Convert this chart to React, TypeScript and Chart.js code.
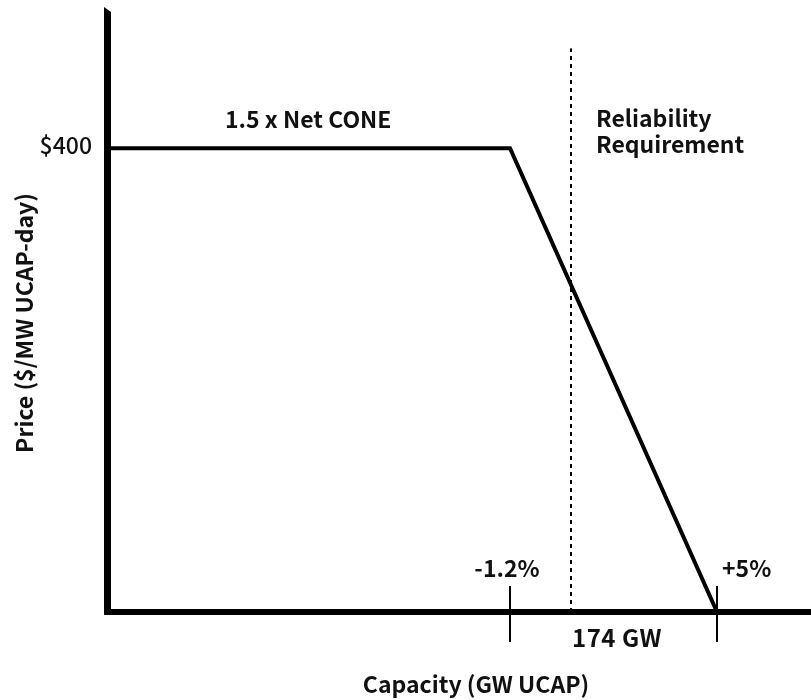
import React, { useEffect, useRef } from "react";
import { Chart, registerables } from "chart.js";

Chart.register(...registerables);

// Stylised demand curve (x in relative capacity units, y in $/MW UCAP-day)
const curveCapacity = [0, 57.43, 87];
const curvePrice = [400, 400, 0];
const reliabilityCapacity = 66.14;
const reliabilityLineTop = 486;
const tickCapacities = [57.43, 87];
const tickLabels = ["-1.2%", "+5%"];
const priceLabel = "$400";
const priceCapValue = 400;
const curveLabel = "1.5 x Net CONE";
const reliabilityLabel = ["Reliability", "Requirement"];
const requirementLabel = "174 GW";
const xTitle = "Capacity (GW UCAP)";
const yTitle = "Price ($/MW UCAP-day)";

const FONT = '"Noto Sans CJK JP", "Noto Sans", sans-serif';

const overlay = {
  id: "overlay",
  afterDatasetsDraw(chart: any) {
    const { ctx, chartArea, scales } = chart;
    const xs = scales.x;
    const ys = scales.y;
    const L = chartArea.left;
    const B = chartArea.bottom;
    ctx.save();
    ctx.fillStyle = "#000";
    // y axis with slanted top
    ctx.beginPath();
    ctx.moveTo(L - 4, 7);
    ctx.lineTo(L + 3, 12);
    ctx.lineTo(L + 3, B + 3);
    ctx.lineTo(L - 4, B + 3);
    ctx.closePath();
    ctx.fill();
    // x axis
    ctx.fillRect(L - 4, B - 3, chart.width - (L - 4), 6);
    // ticks
    ctx.strokeStyle = "#000";
    ctx.lineWidth = 2;
    tickCapacities.forEach((v) => {
      const px = Math.round(xs.getPixelForValue(v));
      ctx.beginPath();
      ctx.moveTo(px, B - 26);
      ctx.lineTo(px, B + 30);
      ctx.stroke();
    });
    // texts
    ctx.fillStyle = "#111";
    ctx.textBaseline = "alphabetic";
    const yCap = ys.getPixelForValue(priceCapValue);
    ctx.font = `500 23px ${FONT}`;
    ctx.textAlign = "right";
    ctx.fillText(priceLabel, L - 16, yCap + 6);
    ctx.font = `600 23px ${FONT}`;
    ctx.textAlign = "left";
    ctx.fillText(curveLabel, 225, yCap - 20);
    const rx = xs.getPixelForValue(reliabilityCapacity);
    ctx.fillText(reliabilityLabel[0], rx + 25, yCap - 21);
    ctx.fillText(reliabilityLabel[1], rx + 25, yCap + 5);
    ctx.textAlign = "center";
    ctx.fillText(tickLabels[0], xs.getPixelForValue(tickCapacities[0]) - 3, B - 35);
    ctx.textAlign = "left";
    ctx.fillText(tickLabels[1], xs.getPixelForValue(tickCapacities[1]) + 5, B - 35);
    ctx.save();
    ctx.font = `600 24px ${FONT}`;
    (ctx as any).letterSpacing = "0.5px";
    ctx.fillText(requirementLabel, rx + 1, B + 35);
    ctx.restore();
    // axis titles
    ctx.font = `700 23px ${FONT}`;
    ctx.textAlign = "center";
    ctx.fillText(xTitle, 476, 693);
    ctx.save();
    ctx.translate(33, 323);
    ctx.rotate(-Math.PI / 2);
    ctx.fillText(yTitle, 0, 0);
    ctx.restore();
    ctx.restore();
  },
};

export default function App() {
  const ref = useRef<HTMLCanvasElement>(null);
  useEffect(() => {
    if (!ref.current) return;
    const chart = new Chart(ref.current, {
      type: "scatter",
      data: {
        datasets: [
          {
            data: curveCapacity.map((x, i) => ({ x, y: curvePrice[i] })),
            showLine: true,
            borderColor: "#000",
            borderWidth: 4,
            pointRadius: 0,
            borderJoinStyle: "miter",
            tension: 0,
          },
          {
            data: [
              { x: reliabilityCapacity, y: 0 },
              { x: reliabilityCapacity, y: reliabilityLineTop },
            ],
            showLine: true,
            borderColor: "#000",
            borderWidth: 2,
            borderDash: [4, 4],
            pointRadius: 0,
          },
        ],
      },
      options: {
        responsive: false,
        animation: false,
        layout: { padding: { left: 108, right: 3, top: 9, bottom: 88 } },
        scales: {
          x: { type: "linear", min: 0, max: 100, display: false },
          y: { type: "linear", min: 0, max: 520, display: false },
        },
        plugins: { legend: { display: false }, tooltip: { enabled: false } },
      },
      plugins: [overlay],
    });
    return () => chart.destroy();
  }, []);
  return (
    <canvas
      ref={ref}
      width={811}
      height={700}
      style={{ position: "fixed", left: 0, top: 0, width: 811, height: 700, background: "#fff" }}
    />
  );
}
